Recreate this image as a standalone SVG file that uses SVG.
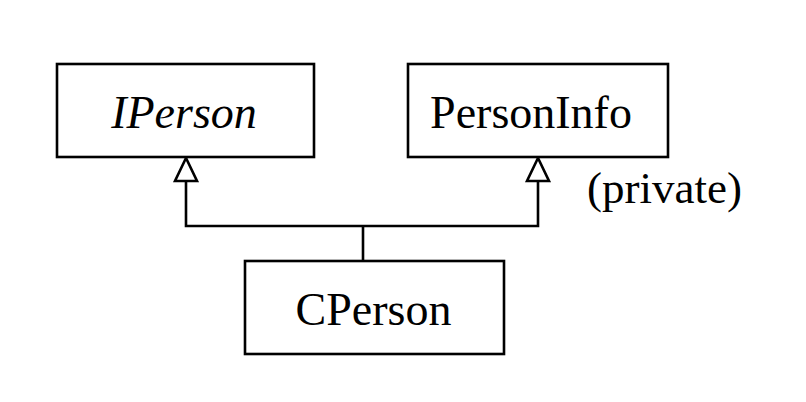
<svg xmlns="http://www.w3.org/2000/svg" width="806" height="402" viewBox="0 0 806 402">
<style>
.box{fill:#fff;stroke:#000;stroke-width:2.6}
.lbl{font-family:"Liberation Serif","Times New Roman",serif;font-size:46px;fill:#000;text-anchor:middle}
.it{font-style:italic}
.edge{fill:none;stroke:#000;stroke-width:2.6}
.head{fill:#fff;stroke:#000;stroke-width:2.6;stroke-linejoin:miter}
</style>
<rect width="806" height="402" fill="#fff"/>
<g id="connectors">
<path class="edge" d="M186 181 V226 H538 V181"/>
<path class="edge" d="M363 226 V261"/>
<polygon class="head" points="186,158 175,181 197,181"/>
<polygon class="head" points="538,158 527,181 549,181"/>
<text class="lbl" x="587" y="203" style="text-anchor:start;font-size:45px">(private)</text>
</g>
<g id="IPerson">
<rect class="box" x="57" y="64" width="257" height="93"/>
<text class="lbl it" x="184" y="128">IPerson</text>
</g>
<g id="PersonInfo">
<rect class="box" x="408" y="64" width="260" height="93"/>
<text class="lbl" x="531" y="128">PersonInfo</text>
</g>
<g id="CPerson">
<rect class="box" x="245" y="261" width="259" height="93"/>
<text class="lbl" x="373.5" y="325">CPerson</text>
</g>
</svg>
